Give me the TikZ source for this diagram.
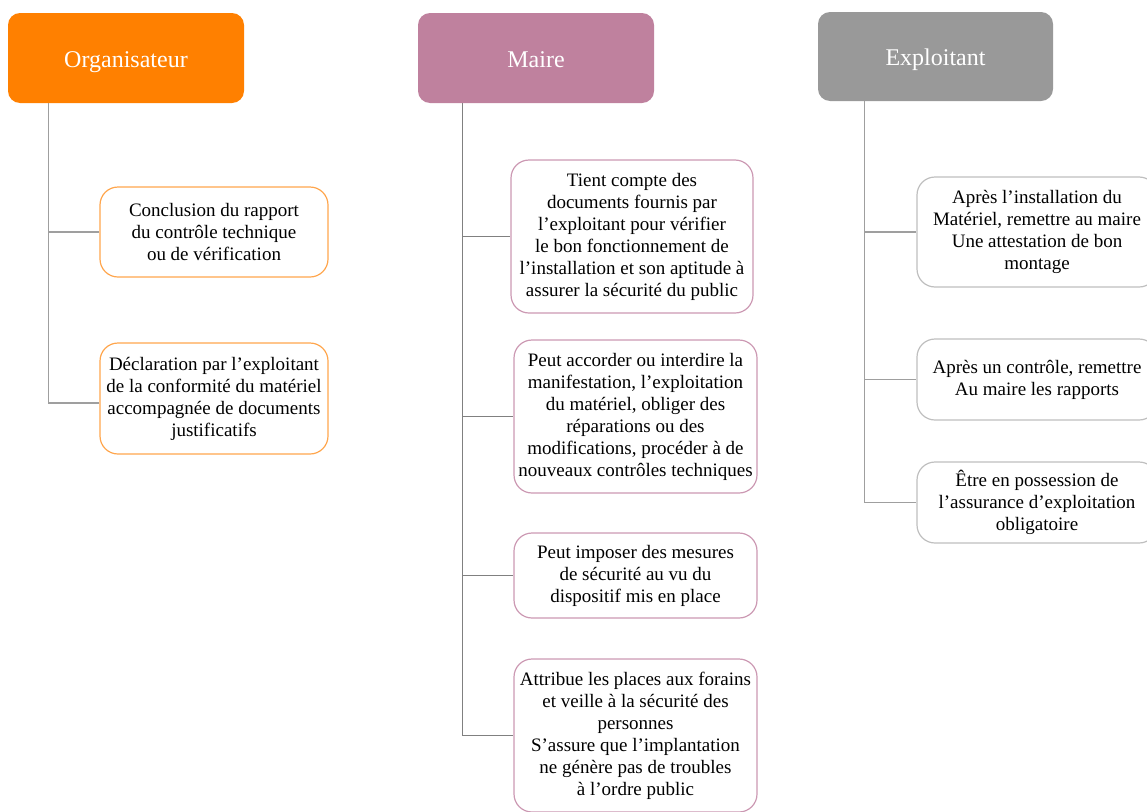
\documentclass[tikz,border=0pt]{standalone}
\usepackage{fontspec}
\setmainfont{Liberation Serif}
\definecolor{orgfill}{HTML}{FF8000}
\definecolor{orgline}{HTML}{FFA64D}
\definecolor{mairefill}{HTML}{BF819E}
\definecolor{maireline}{HTML}{CC99B3}
\definecolor{explfill}{HTML}{999999}
\definecolor{explline}{HTML}{BFBFBF}
\tikzset{
  head/.style={rounded corners=12pt, minimum width=236pt, minimum height=90pt,
    inner sep=0pt, text height=22pt, text depth=4pt, text=white,
    font=\fontsize{24}{28}\selectfont},
  leaf/.style={draw, rounded corners=18pt, line width=1.2pt, fill=white,
    align=center, inner sep=0pt, font=\fontsize{19}{22}\selectfont},
  conn/.style={line width=1.3pt, color=#1},
}
\begin{document}
\begin{tikzpicture}[x=1pt, y=-1pt]
      \useasboundingbox (0,0) rectangle (1147,811);
      % headers
      \node[head, fill=orgfill] (org) at (126,58) {Organisateur};
      \node[head, fill=mairefill] (maire) at (536,58) {Maire};
      \node[head, fill=explfill, minimum width=235pt, minimum height=89pt] (expl) at (935.5,56.5) {Exploitant};

      % organisateur
      \node[leaf, draw=orgline, minimum width=228pt, minimum height=90pt] (org1) at (214,232)
        {Conclusion du rapport\\du contrôle technique\\ou de vérification};
      \node[leaf, draw=orgline, minimum width=228pt, minimum height=111pt] (org2) at (214,398.5)
        {Déclaration par l’exploitant\\de la conformité du matériel\\accompagnée de documents\\justificatifs};

      % maire
      \node[leaf, draw=maireline, minimum width=242pt, minimum height=153pt] (maire1) at (632,236.5)
        {Tient compte des\\documents fournis par\\l’exploitant pour vérifier\\le bon fonctionnement de\\l’installation et son aptitude à\\assurer la sécurité du public};
      \node[leaf, draw=maireline, minimum width=243pt, minimum height=153pt] (maire2) at (635.5,416.5)
        {Peut accorder ou interdire la\\manifestation, l’exploitation\\du matériel, obliger des\\réparations ou des\\modifications, procéder à de\\nouveaux contrôles techniques};
      \node[leaf, draw=maireline, minimum width=243pt, minimum height=85pt] (maire3) at (635.5,575.5)
        {Peut imposer des mesures\\de sécurité au vu du\\dispositif mis en place};
      \node[leaf, draw=maireline, minimum width=243pt, minimum height=153pt] (maire4) at (635.5,735.5)
        {Attribue les places aux forains\\et veille à la sécurité des\\personnes\\S’assure que l’implantation\\ne génère pas de troubles\\à l’ordre public};

      % exploitant
      \node[leaf, draw=explline, minimum width=240pt, minimum height=110pt] (expl1) at (1037,232)
        {Après l’installation du\\Matériel, remettre au maire\\Une attestation de bon\\montage};
      \node[leaf, draw=explline, minimum width=240pt, minimum height=81pt] (expl2) at (1037,379.5)
        {Après un contrôle, remettre\\Au maire les rapports};
      \node[leaf, draw=explline, minimum width=240pt, minimum height=81pt] (expl3) at (1037,502.5)
        {Être en possession de\\l’assurance d’exploitation\\obligatoire};

      \coordinate (orgT) at ([xshift=41pt]org.south west);
      \coordinate (maireT) at ([xshift=45pt]maire.south west);
      \coordinate (explT) at ([xshift=47pt]expl.south west);

      \draw[conn=gray!75] (orgT) |- (org1.west);
      \draw[conn=gray!75] (orgT) |- ([yshift=-4.5pt]org2.west);
      \draw[conn=gray] (maireT) |- (maire1.west);
      \draw[conn=gray] (maireT) |- (maire2.west);
      \draw[conn=gray] (maireT) |- (maire3.west);
      \draw[conn=gray] (maireT) |- (maire4.west);
      \draw[conn=gray!75] (explT) |- (expl1.west);
      \draw[conn=gray!75] (explT) |- (expl2.west);
      \draw[conn=gray!75] (explT) |- (expl3.west);
    \end{tikzpicture}
\end{document}
